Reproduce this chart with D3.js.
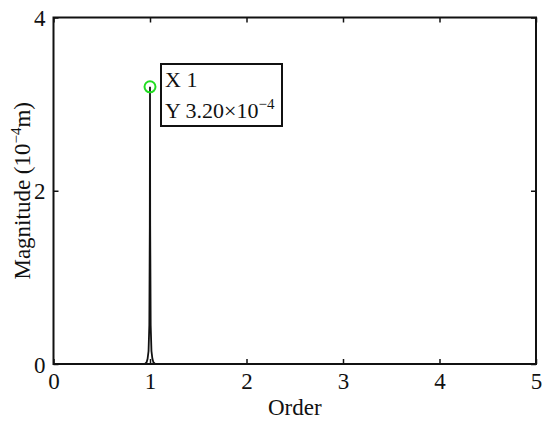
<!DOCTYPE html>
<html>
<head>
<meta charset="utf-8">
<script src="https://cdn.jsdelivr.net/npm/d3@7"></script>
<style>
  body { margin: 0; background: #fff; }
  svg { display: block; }
  text { font-family: "Liberation Serif", "Times New Roman", serif; fill: #111; }
</style>
</head>
<body>
<svg id="chart" width="550" height="425"></svg>
<script>
// ---- data (order, magnitude in 1e-4 m) ----
const orders     = [0, 0.90, 0.95, 0.965, 0.975, 0.985, 0.993, 0.998, 1.000, 1.002, 1.007, 1.015, 1.025, 1.035, 1.05, 1.10, 5];
const magnitudes = [0, 0.002, 0.005, 0.02, 0.06, 0.15, 0.45, 1.6, 3.2, 1.6, 0.45, 0.15, 0.06, 0.02, 0.005, 0.002, 0];
const xTicks = [0, 1, 2, 3, 4, 5];
const yTicks = [0, 2, 4];
const tipX = 1, tipY = 3.2;

const svg = d3.select("#chart");
const m = { left: 53.5, top: 17.5, right: 536, bottom: 364 };
const x = d3.scaleLinear().domain([0, 5]).range([m.left, m.right]);
const y = d3.scaleLinear().domain([0, 4]).range([m.bottom, m.top]);

const fs = 23;
// axes with inward ticks
const tick = 5;
const gB = svg.append("g").attr("transform", `translate(0,${m.bottom})`)
  .call(d3.axisBottom(x).tickValues(xTicks).tickSizeInner(-tick).tickSizeOuter(0).tickPadding(8).tickFormat(d3.format("d")));
const gT = svg.append("g").attr("transform", `translate(0,${m.top})`)
  .call(d3.axisTop(x).tickValues(xTicks).tickSizeInner(-tick).tickSizeOuter(0).tickFormat(""));
const gL = svg.append("g").attr("transform", `translate(${m.left},0)`)
  .call(d3.axisLeft(y).tickValues(yTicks).tickSizeInner(-tick).tickSizeOuter(0).tickPadding(8).tickFormat(d3.format("d")));
const gR = svg.append("g").attr("transform", `translate(${m.right},0)`)
  .call(d3.axisRight(y).tickValues(yTicks).tickSizeInner(-tick).tickSizeOuter(0).tickFormat(""));

[gB, gT, gL, gR].forEach(g => {
  g.select(".domain").remove();
  g.selectAll(".tick line").attr("stroke", "#111").attr("stroke-width", 1.5);
  g.selectAll("text").style("font-family", '"Liberation Serif", serif').style("font-size", fs + "px").attr("fill", "#111");
});
gB.selectAll("text").attr("dy", "0.72em");
gL.selectAll("text").attr("dy", "0.35em");

// data line
const line = d3.line().x((d, i) => x(orders[i])).y(d => y(d));
svg.append("path").datum(magnitudes)
  .attr("d", line).attr("fill", "none").attr("stroke", "#111").attr("stroke-width", 1.8);

// frame
svg.append("rect").attr("x", m.left).attr("y", m.top)
  .attr("width", m.right - m.left).attr("height", m.bottom - m.top)
  .attr("fill", "none").attr("stroke", "#111").attr("stroke-width", 2);

// datatip marker
svg.append("circle").attr("cx", x(tipX)).attr("cy", y(tipY)).attr("r", 5.5)
  .attr("fill", "none").attr("stroke", "#22dd22").attr("stroke-width", 2);

// datatip box
const bx = 161, by = 64, bw = 121, bh = 62;
svg.append("rect").attr("x", bx).attr("y", by).attr("width", bw).attr("height", bh)
  .attr("fill", "#fff").attr("stroke", "#111").attr("stroke-width", 2);
svg.append("text").attr("x", bx + 4).attr("y", by + 23).style("font-size", "22px").text("X " + tipX);
const t2 = svg.append("text").attr("x", bx + 4).attr("y", by + 54).style("font-size", "22px");
t2.append("tspan").text("Y " + tipY.toFixed(2) + "×10");
t2.append("tspan").attr("dy", "-9").style("font-size", "15px").text("−4");

// axis labels
svg.append("text").attr("x", (m.left + m.right) / 2).attr("y", 415)
  .attr("text-anchor", "middle").style("font-size", "23px").text("Order");
const yl = svg.append("text").attr("transform", `translate(30,${(m.top + m.bottom) / 2}) rotate(-90)`)
  .attr("text-anchor", "middle").style("font-size", "23px");
yl.append("tspan").text("Magnitude (10");
yl.append("tspan").attr("dy", "-9").style("font-size", "15px").text("−4");
yl.append("tspan").attr("dy", "9").text("m)");
</script>
</body>
</html>
